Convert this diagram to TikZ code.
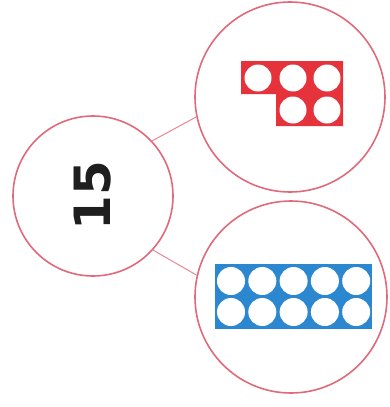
\documentclass[tikz,border=0pt]{standalone}
\usepackage{fontspec}
\newfontfamily\digitfont{DejaVu Sans}
\definecolor{nbpink}{HTML}{E06A7A}
\definecolor{nbred}{HTML}{E5323B}
\definecolor{nbblue}{HTML}{2B87CF}
\definecolor{nbink}{HTML}{1E1E1E}
\tikzset{
  nb circle/.style={circle, draw=nbpink, line width=1.6pt, fill=white, inner sep=0pt},
  nb link/.style={draw=nbpink!80, line width=1pt},
  nb hole/.style={fill=white},
  nb number/.style={font=\digitfont\bfseries\fontsize{50}{50}\selectfont, text=nbink, rotate=90}
}

\begin{document}
\begin{tikzpicture}[x=1pt, y=-1pt]
  \useasboundingbox (0,0) rectangle (390,407);
  % the whole and its two parts
  \node[nb circle, minimum size=160pt] (whole) at (93,196) {};
  \node[nb circle, minimum size=190pt] (partA) at (290,97) {};
  \node[nb circle, minimum size=192pt] (partB) at (291,297) {};
  \node[nb number] (total) at (whole) {15};
  \draw[nb link] (whole.43) -- (partA.192);
  \draw[nb link] (whole.-42) -- (partB.167);
  % red frame, five
  \fill[nbred] (241,61) -- (343,61) -- (343,126) -- (276,126) -- (276,94) -- (241,94) -- cycle;
  \foreach \x in {258,293,327} \fill[nb hole] (\x,78) circle (13.5);
  \foreach \x in {293,327} \fill[nb hole] (\x,110) circle (13.5);
  % blue frame, ten
  \fill[nbblue] (215,264) rectangle (372,329);
  \foreach \i in {0,...,4} {
    \fill[nb hole] (231+31.3*\i,281) circle (14);
    \fill[nb hole] (231+31.3*\i,312) circle (14);
  }
\end{tikzpicture}
\end{document}
